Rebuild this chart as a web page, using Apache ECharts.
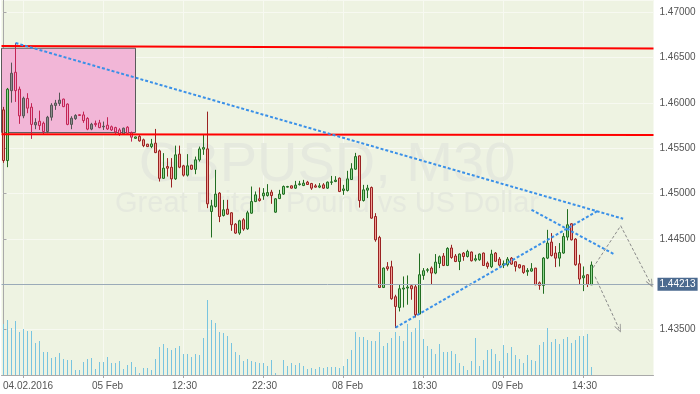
<!DOCTYPE html>
<html><head><meta charset="utf-8">
<script src="https://cdn.jsdelivr.net/npm/echarts/dist/echarts.min.js"></script>
<style>html,body{margin:0;padding:0;background:#fff}#c{width:700px;height:394px}</style>
</head><body><div id="c"></div>
<script>
// ---------------- data ----------------
const slotCount = 163;
const timeLabelIndex = [5, 25, 45, 65, 85, 105, 125, 145];
const timeLabels = ['04.02.2016', '05 Feb', '12:30', '22:30', '08 Feb', '18:30', '09 Feb', '14:30'];
const priceAxisMin = 1.43, priceAxisMax = 1.47136, priceStep = 0.005;
// [open, close, low, high]
const ohlc = [
[1.45924,1.45365,1.45340,1.45957],[1.45365,1.46152,1.45292,1.46166],[1.46136,1.46328,1.46004,1.46445],[1.46339,1.46136,1.46012,1.46662],
[1.46152,1.45858,1.45770,1.46181],[1.45858,1.46053,1.45832,1.46070],[1.46050,1.45943,1.45887,1.46108],[1.45954,1.45764,1.45604,1.45998],
[1.45759,1.45786,1.45711,1.45832],[1.45799,1.45751,1.45703,1.45916],[1.45777,1.45685,1.45656,1.45795],[1.45685,1.45843,1.45667,1.45858],
[1.45843,1.45976,1.45806,1.45998],[1.45973,1.45999,1.45924,1.46034],[1.45995,1.46032,1.45968,1.46114],[1.46043,1.45960,1.45954,1.46048],
[1.45988,1.45764,1.45755,1.45995],[1.45764,1.45832,1.45711,1.45854],[1.45827,1.45863,1.45814,1.45876],[1.45871,1.45862,1.45858,1.45874],
[1.45869,1.45806,1.45781,1.45905],[1.45830,1.45712,1.45700,1.45843],[1.45712,1.45766,1.45700,1.45781],[1.45775,1.45761,1.45738,1.45806],
[1.45781,1.45729,1.45722,1.45814],[1.45737,1.45744,1.45703,1.45795],[1.45755,1.45714,1.45703,1.45843],[1.45738,1.45703,1.45692,1.45751],
[1.45729,1.45681,1.45659,1.45738],[1.45703,1.45659,1.45637,1.45722],[1.45659,1.45722,1.45648,1.45729],[1.45733,1.45667,1.45659,1.45744],
[1.45674,1.45623,1.45574,1.45685],[1.45610,1.45626,1.45604,1.45630],[1.45632,1.45582,1.45574,1.45645],[1.45594,1.45530,1.45513,1.45607],
[1.45546,1.45519,1.45516,1.45549],[1.45519,1.45549,1.45502,1.45604],[1.45557,1.45453,1.45447,1.45714],[1.45472,1.45169,1.45134,1.45486],
[1.45169,1.45281,1.45163,1.45447],[1.45299,1.45281,1.45189,1.45392],[1.45292,1.45163,1.45068,1.45392],[1.45163,1.45428,1.45152,1.45530],
[1.45436,1.45292,1.45281,1.45530],[1.45307,1.45204,1.45189,1.45318],[1.45204,1.45307,1.45189,1.45436],[1.45314,1.45270,1.45263,1.45318],
[1.45268,1.45373,1.45215,1.45409],[1.45373,1.45494,1.45354,1.45519],[1.45491,1.45508,1.45428,1.45648],[1.45494,1.44888,1.44840,1.45905],
[1.44803,1.44866,1.44517,1.44932],[1.44858,1.44995,1.44847,1.45263],[1.45006,1.44748,1.44686,1.45017],[1.44759,1.44822,1.44748,1.44932],
[1.44829,1.44774,1.44767,1.44932],[1.44789,1.44657,1.44590,1.44796],[1.44664,1.44565,1.44557,1.44675],[1.44565,1.44701,1.44546,1.44712],
[1.44712,1.44609,1.44590,1.44730],[1.44612,1.44789,1.44601,1.44811],[1.44785,1.44913,1.44778,1.45079],[1.44913,1.44987,1.44907,1.45024],
[1.44943,1.44924,1.44913,1.45068],[1.44976,1.45006,1.44932,1.45061],[1.44979,1.45012,1.44968,1.45105],[1.45017,1.44979,1.44888,1.45042],
[1.44796,1.44943,1.44789,1.44951],[1.44946,1.44995,1.44940,1.45042],[1.44995,1.45079,1.44987,1.45090],[1.45072,1.45079,1.45068,1.45086],
[1.45086,1.45061,1.45056,1.45090],[1.45061,1.45094,1.45053,1.45141],[1.45100,1.45108,1.45090,1.45141],[1.45090,1.45116,1.45083,1.45152],
[1.45127,1.45101,1.45097,1.45141],[1.45112,1.45061,1.45042,1.45119],[1.45086,1.45072,1.45068,1.45105],[1.45072,1.45086,1.45061,1.45116],
[1.45097,1.45061,1.45053,1.45116],[1.45061,1.45127,1.45053,1.45134],[1.45125,1.45130,1.45097,1.45196],[1.45134,1.45149,1.45127,1.45193],
[1.45171,1.45024,1.45017,1.45178],[1.45035,1.45052,1.44987,1.45097],[1.45035,1.45163,1.45024,1.45252],[1.45156,1.45274,1.45152,1.45336],
[1.45270,1.45409,1.45263,1.45450],[1.45417,1.44924,1.44847,1.45420],[1.44924,1.45042,1.44913,1.45097],[1.45039,1.45061,1.44951,1.45097],
[1.45068,1.44730,1.44723,1.45079],[1.44748,1.44491,1.44470,1.44785],[1.44517,1.43965,1.43959,1.44535],[1.43965,1.44179,1.43959,1.44186],
[1.44194,1.44172,1.44150,1.44245],[1.44194,1.43841,1.43830,1.44260],[1.43863,1.43756,1.43518,1.43885],[1.43745,1.43951,1.43701,1.44003],
[1.43948,1.43959,1.43745,1.44087],[1.43959,1.43970,1.43775,1.44098],[1.43984,1.43951,1.43830,1.43995],[1.43973,1.43665,1.43635,1.43995],
[1.43672,1.44106,1.43665,1.44340],[1.44098,1.44150,1.44050,1.44179],[1.44155,1.44161,1.44131,1.44179],[1.44179,1.44124,1.43995,1.44197],
[1.44124,1.44245,1.44112,1.44334],[1.44230,1.44304,1.44179,1.44318],[1.44312,1.44208,1.44201,1.44345],[1.44208,1.44396,1.44201,1.44409],
[1.44401,1.44296,1.44282,1.44436],[1.44312,1.44252,1.44245,1.44334],[1.44252,1.44334,1.44157,1.44340],[1.44345,1.44307,1.44260,1.44356],
[1.44307,1.44362,1.44296,1.44381],[1.44356,1.44260,1.44252,1.44362],[1.44267,1.44282,1.44252,1.44326],[1.44271,1.44334,1.44260,1.44340],
[1.44345,1.44208,1.44205,1.44351],[1.44234,1.44197,1.44172,1.44252],[1.44194,1.44334,1.44179,1.44381],[1.44345,1.44254,1.44249,1.44356],
[1.44278,1.44212,1.44197,1.44301],[1.44212,1.44227,1.44179,1.44263],[1.44216,1.44278,1.44197,1.44301],[1.44289,1.44223,1.44216,1.44301],
[1.44249,1.44197,1.44142,1.44252],[1.44216,1.44183,1.44175,1.44223],[1.44205,1.44131,1.44116,1.44208],[1.44139,1.44154,1.44094,1.44179],
[1.44146,1.44172,1.44139,1.44234],[1.44179,1.43995,1.43992,1.44182],[1.44017,1.43988,1.43940,1.44032],[1.43988,1.44289,1.43896,1.44301],
[1.44289,1.44455,1.44278,1.44601],[1.44466,1.44318,1.44307,1.44565],[1.44345,1.44289,1.44190,1.44422],[1.44289,1.44351,1.44197,1.44455],
[1.44345,1.44528,1.44337,1.44565],[1.44521,1.44657,1.44484,1.44829],[1.44668,1.44491,1.44484,1.44675],[1.44499,1.44216,1.44205,1.44510],
[1.44227,1.44058,1.44000,1.44326],[1.44072,1.44094,1.43925,1.44197],[1.44106,1.44000,1.43970,1.44112],[1.43995,1.44213,1.43992,1.44252]
];
const volume = [51,55,47,54,43,46,44,44,32,34,23,23,17,18,22,16,15,15,5,5,13,16,17,6,13,13,18,12,12,14,6,10,13,8,2,7,7,5,16,28,31,27,25,27,29,21,21,18,21,20,37,75,55,52,43,42,39,32,23,20,14,16,14,13,12,12,9,15,2,0,15,9,12,10,12,9,6,7,6,8,7,8,8,8,7,9,16,25,43,38,38,35,34,34,43,29,32,37,43,39,34,51,43,47,55,36,29,26,21,31,23,23,24,21,12,9,5,14,37,9,15,25,26,21,14,30,22,28,20,16,12,20,15,14,30,33,47,33,36,31,36,38,32,35,39,39,41,8];
const currentPrice = 1.44213;
const levelLines = [[1.4663, 1.4660], [1.45656, 1.45648]];
const zoneRect = [-1.6, 33, 1.46604, 1.45674]; // from slot, to slot, top price, bottom price
const zoneCandles = [2, 32];
const trendLines = [
  [[3, 1.46662], [154.9, 1.44723]],
  [[98, 1.43522], [148.6, 1.44811]],
  [[132, 1.44822], [152.9, 1.44326]]
];
const forecastPaths = [
  [[147.4, 1.44183], [154.3, 1.44646], [161.8, 1.44007]],
  [[147.9, 1.44084], [153.9, 1.43510]]
];
const watermark = ['GBPUSD, M30', 'Great Britain Pound vs US Dollar'];

// ---------------- chart ----------------
const FONT = '"Liberation Sans", Arial, sans-serif';
const categories = Array.from({length: slotCount}, (_, i) => String(i));
const labelFor = i => { const k = timeLabelIndex.indexOf(i); return k >= 0 ? timeLabels[k] : ''; };
const showAt = i => timeLabelIndex.indexOf(i) >= 0;
const labelStyleFor = i => {
  const t = labelFor(i);
  if (timeLabelIndex.indexOf(i) === 0) return '{a|' + t + '}';
  return /:/.test(t) ? '{t|' + t + '}' : '{d|' + t + '}';
};

const candleData = ohlc.map((v, i) => {
  if (i >= zoneCandles[0] && i <= zoneCandles[1]) {
    const bull = v[1] >= v[0];
    const fill = bull ? '#8e8e8e' : '#eea3c7';
    const line = bull ? '#555555' : '#c42454';
    return {value: v, itemStyle: {color: fill, color0: fill, borderColor: line, borderColor0: line}};
  }
  return v;
});
const volumeData = volume.map((v, i) => [i, v]);

const chevron = 'path://M0,10L5,0L10,10L8.8,10L5,2.4L1.2,10Z';
const series = [];

series.push({
  type: 'line', xAxisIndex: 1, yAxisIndex: 0, data: [], z: 0, silent: true,
  markLine: {z: 0, silent: true, symbol: ['none', 'none'], label: {show: false},
    lineStyle: {color: '#f7f9f1', width: 1, type: 'solid'},
    data: timeLabelIndex.map(i => ({xAxis: i}))}
});
series.push({
  type: 'line', xAxisIndex: 1, yAxisIndex: 0, data: [], z: 1, silent: true,
  markArea: {z: 1, silent: true, itemStyle: {color: '#f2b6d7', borderColor: '#5a5a5a', borderWidth: 1},
    data: [[{coord: [zoneRect[0], zoneRect[2]]}, {coord: [zoneRect[1], zoneRect[3]]}]]}
});
series.push({
  type: 'custom', xAxisIndex: 0, yAxisIndex: 1, data: volumeData, z: 2, silent: true,
  encode: {x: 0, y: 1},
  renderItem: (params, api) => {
    const base = api.coord([api.value(0), 0]);
    const top = api.coord([api.value(0), api.value(1)]);
    return {type: 'rect', shape: {x: Math.floor(base[0]), y: top[1], width: 1, height: base[1] - top[1]},
      style: {fill: '#78c4e0'}};
  }
});
series.push({
  type: 'candlestick', xAxisIndex: 0, yAxisIndex: 0, data: candleData, barWidth: 2, z: 2, silent: true,
  itemStyle: {color: '#8ed88e', color0: '#f2a097', borderColor: '#226e22', borderColor0: '#9a2222', borderWidth: 1},
  markLine: {silent: true, symbol: ['none', 'none'],
    data: [{yAxis: currentPrice, lineStyle: {color: '#9aaab8', width: 1, type: 'solid'},
      label: {show: true, position: 'end', distance: 4, formatter: currentPrice.toFixed(5),
        color: '#ffffff', backgroundColor: '#4b6a8f', padding: [2, 2, 1, 2], fontSize: 10, fontFamily: FONT}}]}
});
levelLines.forEach(l => series.push({
  type: 'line', xAxisIndex: 1, yAxisIndex: 0, z: 3, silent: true, symbol: 'none',
  data: [[-0.5, l[0]], [slotCount - 0.5, l[1]]],
  lineStyle: {color: '#ff0000', width: 2}
}));
trendLines.forEach(t => series.push({
  type: 'line', xAxisIndex: 1, yAxisIndex: 0, z: 4, silent: true, symbol: 'none',
  data: t, lineStyle: {color: '#3a90e8', width: 2, type: [3, 2]}
}));
forecastPaths.forEach(p => series.push({
  type: 'line', xAxisIndex: 1, yAxisIndex: 0, z: 4, silent: true, symbol: 'none',
  data: p.slice(0, -1), lineStyle: {color: '#8a8a8a', width: 1, type: [3, 2]},
  markLine: {silent: true, symbol: ['none', chevron], symbolSize: [7, 8], label: {show: false},
    lineStyle: {color: '#8a8a8a', width: 1, type: [3, 2]},
    itemStyle: {color: '#8a8a8a'},
    data: [[{coord: p[p.length - 2]}, {coord: p[p.length - 1]}]]}
}));

const chart = echarts.init(document.getElementById('c'), null, {renderer: 'canvas'});
chart.setOption({
  animation: false,
  backgroundColor: '#ffffff',
  textStyle: {fontFamily: FONT},
  grid: {left: 1.5, right: 46.5, top: 0, bottom: 19, show: true, backgroundColor: '#eef3e2',
    borderWidth: 0, containLabel: false, outerBoundsMode: 'none'},
  graphic: [
    {type: 'text', x: 327, y: 166, z: 1, silent: true,
      style: {text: watermark[0], font: '56px ' + FONT, fill: '#e5e9de', align: 'center', verticalAlign: 'middle'}},
    {type: 'text', x: 327, y: 204, z: 1, silent: true,
      style: {text: watermark[1], font: '29px ' + FONT, fill: '#e5e9de', align: 'center', verticalAlign: 'middle'}}
  ],
  xAxis: [
    {type: 'category', data: categories, boundaryGap: true, gridIndex: 0,
      axisLine: {show: true, lineStyle: {color: '#a9a9a9'}},
      axisTick: {show: true, alignWithLabel: true, length: 3, interval: showAt, lineStyle: {color: '#a9a9a9'}},
      axisLabel: {interval: showAt, formatter: (v, i) => labelStyleFor(i), fontSize: 10, color: '#555', margin: 6, fontFamily: FONT,
        rich: {
          a: {fontSize: 10, color: '#555', fontFamily: FONT, padding: [0, 0, 0, 9]},
          d: {fontSize: 10, color: '#555', fontFamily: FONT, padding: [0, 0, 0, 8]},
          t: {fontSize: 10, color: '#555', fontFamily: FONT, padding: [0, 0, 0, 2]}
        }},
      splitLine: {show: false}},
    {type: 'value', min: -0.5, max: slotCount - 0.5, show: false, gridIndex: 0}
  ],
  yAxis: [
    {type: 'value', position: 'right', min: priceAxisMin, max: priceAxisMax, interval: priceStep,
      axisLine: {show: true, lineStyle: {color: '#a9a9a9'}},
      axisTick: {show: true, length: 3, lineStyle: {color: '#a9a9a9'}},
      axisLabel: {formatter: v => v.toFixed(5), fontSize: 10, color: '#555', margin: 6, fontFamily: FONT,
        showMinLabel: false, showMaxLabel: false},
      splitLine: {show: true, lineStyle: {color: '#f7f9f1', width: 1}}},
    {type: 'value', min: 0, max: 375, show: false, gridIndex: 0}
  ],
  series: series
});
</script>
</body></html>
